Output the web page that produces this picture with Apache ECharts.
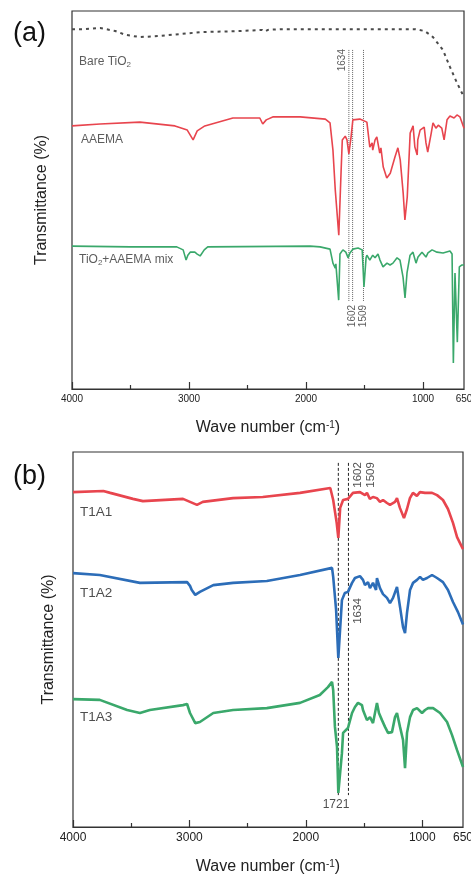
<!DOCTYPE html>
<html><head><meta charset="utf-8">
<script src="https://cdn.jsdelivr.net/npm/echarts@6/dist/echarts.min.js"></script>
<style>html,body{margin:0;padding:0;background:#fff;overflow:hidden;width:471px;height:875px}#c{width:471px;height:875px}</style>
</head><body><div id="c"></div>
<script>
// ---------- axis ticks ----------
const xTickLabels = [4000, 3000, 2000, 1000, 650];
const xMajorTicks = [4000, 3000, 2000, 1000];
const xMinorTicks = [3500, 2500, 1500];

// ---------- panel (a) ----------
const bareWN = [4000, 3890, 3760, 3630, 3545, 3420, 3250, 2905, 2565, 2375, 2350, 2325, 2220, 1625, 1070, 985, 915, 830, 770, 710, 650];
const bareT  = [95.2, 95.2, 95.5, 94.7, 93.7, 93.1, 93.4, 94.4, 94.7, 95.0, 94.6, 95.0, 95.2, 95.2, 95.2, 94.7, 93.1, 89.7, 85.2, 81.0, 77.2];

const aaemaWN = [4000, 3760, 3420, 3120, 3015, 2965, 2930, 2865, 2625, 2395, 2370, 2340, 2280, 2050, 1835, 1795, 1770, 1750, 1735, 1720, 1700, 1690, 1665, 1650, 1634, 1615, 1600, 1540, 1480, 1455, 1435, 1430, 1410, 1395, 1370, 1360, 1340, 1310, 1300, 1280, 1240, 1215, 1195, 1170, 1155, 1135, 1110, 1085, 1070, 1050, 1045, 1025, 990, 975, 960, 930, 915, 890, 870, 840, 820, 795, 770, 735, 710, 685, 650];
const aaemaT  = [69.6, 70.1, 70.6, 69.6, 68.5, 65.9, 68.3, 69.6, 71.7, 71.7, 70.1, 71.2, 72.0, 72.0, 71.4, 70.4, 63.2, 52.6, 52.1, 40.7, 57.9, 65.9, 66.9, 65.9, 62.2, 66.7, 71.2, 71.4, 70.6, 64.0, 65.1, 63.2, 65.9, 66.7, 62.4, 63.8, 58.7, 55.8, 55.3, 57.1, 61.4, 63.8, 60.6, 51.9, 44.7, 50.8, 67.7, 69.6, 64.0, 61.9, 65.9, 68.5, 69.3, 65.1, 62.7, 67.7, 70.4, 69.0, 69.8, 69.0, 65.9, 71.2, 72.2, 71.7, 72.5, 72.0, 69.0];

const mixWN = [4000, 3500, 3105, 3050, 3025, 3010, 2990, 2950, 2930, 2905, 2870, 2840, 1965, 1880, 1795, 1770, 1750, 1745, 1721, 1710, 1685, 1660, 1640, 1625, 1600, 1555, 1520, 1513, 1505, 1487, 1480, 1455, 1430, 1410, 1385, 1368, 1342, 1308, 1282, 1257, 1222, 1197, 1171, 1154, 1137, 1111, 1086, 1060, 1043, 1009, 975, 958, 923, 881, 829, 770, 752, 741, 727, 707, 690, 670, 650];
const mixT  = [37.8, 37.6, 37.6, 36.8, 34.1, 35.4, 36.2, 36.2, 35.7, 35.2, 36.8, 37.6, 37.8, 37.6, 37.0, 33.3, 32.0, 33.1, 23.5, 35.7, 36.8, 36.2, 34.7, 36.0, 37.0, 37.3, 36.8, 32.3, 27.0, 34.7, 35.4, 34.1, 35.4, 34.7, 35.7, 34.1, 32.3, 33.3, 32.8, 33.3, 34.7, 34.1, 29.6, 24.1, 30.7, 35.4, 36.2, 33.3, 34.9, 36.2, 34.9, 36.0, 36.8, 36.2, 36.0, 36.5, 35.7, 6.9, 30.7, 12.4, 32.3, 32.8, 32.8];

const peakLinesA = [1634, 1602, 1509];
const peakLineSpanA = [89.7, 23.0];

// ---------- panel (b) ----------
const t1a1WN = [4000, 3740, 3680, 3485, 3400, 3055, 2995, 2935, 2885, 2625, 2370, 2050, 1790, 1765, 1735, 1721, 1705, 1680, 1638, 1595, 1535, 1492, 1475, 1450, 1423, 1390, 1363, 1337, 1303, 1277, 1234, 1217, 1192, 1157, 1131, 1106, 1080, 1046, 1020, 976, 916, 873, 822, 779, 736, 701, 650];
const t1a1T  = [89.3, 89.6, 89.1, 87.5, 86.9, 87.5, 86.7, 85.9, 86.7, 87.7, 88.0, 89.1, 90.4, 87.2, 81.1, 77.1, 85.1, 87.2, 87.5, 89.1, 89.3, 88.5, 89.1, 87.5, 88.0, 87.7, 86.7, 87.2, 86.4, 85.9, 86.7, 87.7, 85.1, 82.4, 84.8, 87.7, 89.1, 88.3, 89.3, 89.1, 89.1, 88.5, 87.2, 84.8, 81.1, 77.3, 74.1];

const t1a2WN = [4000, 3770, 3425, 3020, 2995, 2980, 2950, 2910, 2795, 2625, 2335, 2050, 1775, 1765, 1740, 1721, 1690, 1665, 1638, 1603, 1578, 1535, 1509, 1492, 1466, 1449, 1423, 1397, 1389, 1363, 1337, 1303, 1277, 1251, 1217, 1191, 1165, 1148, 1131, 1105, 1079, 1045, 1019, 994, 959, 916, 873, 822, 779, 736, 693, 650];
const t1a2T  = [67.7, 67.2, 65.1, 65.3, 64.3, 63.2, 61.9, 62.7, 64.5, 65.1, 65.6, 67.2, 69.1, 66.7, 57.9, 45.1, 60.5, 62.4, 62.7, 65.1, 66.4, 66.9, 65.9, 64.5, 65.3, 63.7, 65.1, 63.2, 66.4, 63.7, 62.1, 61.1, 59.7, 61.1, 64.0, 58.7, 53.3, 51.7, 57.1, 63.2, 65.1, 65.9, 66.7, 65.9, 66.4, 67.2, 66.4, 65.3, 63.2, 60.0, 57.3, 54.0];

const t1a3WN = [4000, 3770, 3535, 3425, 3340, 3055, 3020, 2995, 2950, 2910, 2795, 2625, 2335, 2050, 1880, 1810, 1775, 1765, 1750, 1732, 1721, 1690, 1680, 1638, 1603, 1578, 1552, 1518, 1509, 1475, 1449, 1423, 1389, 1372, 1346, 1320, 1294, 1260, 1234, 1217, 1191, 1165, 1148, 1131, 1105, 1079, 1045, 1002, 976, 950, 907, 847, 787, 744, 701, 650];
const t1a3T  = [34.1, 33.9, 31.2, 30.4, 31.2, 32.5, 32.8, 30.4, 27.7, 28.0, 30.4, 31.2, 31.7, 33.1, 35.2, 37.3, 38.7, 36.5, 26.7, 21.3, 9.1, 19.7, 25.1, 26.4, 30.4, 32.0, 33.1, 32.5, 31.2, 28.5, 29.3, 27.7, 33.1, 30.4, 28.5, 26.7, 25.1, 25.3, 29.3, 30.4, 26.7, 23.2, 15.7, 25.1, 29.3, 31.2, 31.7, 30.4, 31.2, 31.7, 31.7, 30.4, 28.0, 24.5, 20.5, 16.0];

const peakLinesB = [1721, 1634];
const peakLineSpanB = [97.1, 8.5];

// ---------- styling ----------
const F = "'Liberation Sans', Arial, Helvetica, sans-serif";
const RED = '#e8454e', GREEN = '#3aa86b', BLUE = '#2c6db8', GREY = '#4a4a4a';
const pairs = (xs, ys) => xs.map((x, i) => [x, ys[i]]);

function mainX(g, fs, margin, gap) {
  return {
    type: 'value', gridIndex: g, position: 'bottom', min: 650, max: 4000, inverse: true,
    axisLine: { show: true, lineStyle: { color: '#333', width: 1.2 } },
    axisTick: { show: true, inside: true, length: 7, customValues: xMajorTicks, lineStyle: { color: '#333', width: 1.2 } },
    axisLabel: { customValues: xTickLabels, fontSize: fs, color: '#222', margin: margin, fontFamily: F, formatter: v => String(v), hideOverlap: false },
    splitLine: { show: false },
    name: '{a|Wave number (cm}{s|-1}{a|)}', nameLocation: 'middle', nameGap: gap,
    nameTextStyle: { fontSize: 16, color: '#222', fontFamily: F,
      rich: { a: { fontSize: 16, color: '#222', fontFamily: F }, s: { fontSize: 10, color: '#222', fontFamily: F, verticalAlign: 'top' } } }
  };
}
function minorX(g) {
  return {
    type: 'value', gridIndex: g, position: 'bottom', min: 650, max: 4000, inverse: true,
    axisLine: { show: false },
    axisTick: { show: true, inside: true, length: 4, customValues: xMinorTicks, lineStyle: { color: '#333', width: 1.2 } },
    axisLabel: { show: false }, splitLine: { show: false }
  };
}
function yAx(g, gap) {
  return {
    type: 'value', gridIndex: g, min: 0, max: 100,
    axisLine: { show: false }, axisTick: { show: false }, axisLabel: { show: false }, splitLine: { show: false },
    name: 'Transmittance (%)', nameLocation: 'middle', nameGap: gap,
    nameTextStyle: { fontSize: 16, color: '#222', fontFamily: F }
  };
}
function lineS(xi, yi, data, color, width, type) {
  return { type: 'line', xAxisIndex: xi, yAxisIndex: yi, data: data, showSymbol: false, symbol: 'none',
    lineStyle: { color: color, width: width, type: type || 'solid' }, silent: true, z: 3 };
}
function vline(xi, yi, w, span, color, type) {
  return { type: 'line', xAxisIndex: xi, yAxisIndex: yi, data: [[w, span[0]], [w, span[1]]], showSymbol: false, symbol: 'none',
    lineStyle: { color: color, width: 1, type: type }, silent: true, z: 2 };
}
function textS(xi, yi, items) {
  return { type: 'scatter', xAxisIndex: xi, yAxisIndex: yi, symbolSize: 0, silent: true, z: 5,
    data: items.map(it => ({ value: it.at, label: Object.assign({ show: true, formatter: it.text, fontFamily: F }, it.style) })) };
}

const subRich = { t: { fontSize: 12, color: '#333', fontFamily: F }, d: { fontSize: 8, color: '#333', fontFamily: F, verticalAlign: 'bottom', padding: [5, 0, 0, 0] } };
const nameStyleA = { position: 'right', distance: 0, fontSize: 12, color: '#333', rich: subRich };
const nameStyleB = { position: 'right', distance: 0, fontSize: 13.5, color: '#222' };
const peakStyleA = { position: 'inside', rotate: 90, fontSize: 10, color: '#333' };
const peakStyleB = { position: 'inside', rotate: 90, fontSize: 11.5, color: '#222' };

const gridBase = { show: true, borderColor: '#333', borderWidth: 1.2, backgroundColor: 'transparent', containLabel: false, outerBoundsMode: 'none' };
const option = {
  animation: false,
  backgroundColor: '#fff',
  grid: [
    Object.assign({ left: 72, top: 11, width: 392, height: 378 }, gridBase),
    Object.assign({ left: 73, top: 452, width: 390, height: 375 }, gridBase)
  ],
  xAxis: [mainX(0, 10, 5, 31), minorX(0), mainX(1, 12, 5, 32), minorX(1)],
  yAxis: [yAx(0, 22), yAx(1, 16)],
  series: [
    lineS(0, 0, pairs(bareWN, bareT), GREY, 2, [3, 4]),
    lineS(0, 0, pairs(aaemaWN, aaemaT), RED, 1.6),
    lineS(0, 0, pairs(mixWN, mixT), GREEN, 1.6),
    ...peakLinesA.map(w => vline(0, 0, w, peakLineSpanA, '#666', [1, 1])),
    textS(0, 0, [
      { at: [3940, 86.5], text: '{t|Bare TiO}{d|2}', style: nameStyleA },
      { at: [3923, 65.9], text: '{t|AAEMA}', style: nameStyleA },
      { at: [3940, 34.1], text: '{t|TiO}{d|2}{t|+AAEMA mix}', style: nameStyleA },
      { at: [1693, 87.0], text: '1634', style: peakStyleA },
      { at: [1602, 19.3], text: '1602', style: peakStyleA },
      { at: [1509, 19.3], text: '1509', style: peakStyleA }
    ]),
    lineS(2, 1, pairs(t1a1WN, t1a1T), RED, 2.6),
    lineS(2, 1, pairs(t1a2WN, t1a2T), BLUE, 2.6),
    lineS(2, 1, pairs(t1a3WN, t1a3T), GREEN, 2.6),
    ...peakLinesB.map(w => vline(2, 1, w, peakLineSpanB, '#222', [3, 2])),
    textS(2, 1, [
      { at: [3940, 84.0], text: 'T1A1', style: nameStyleB },
      { at: [3940, 62.4], text: 'T1A2', style: nameStyleB },
      { at: [3940, 29.3], text: 'T1A3', style: nameStyleB },
      { at: [1552, 93.9], text: '1602', style: peakStyleB },
      { at: [1440, 93.9], text: '1509', style: peakStyleB },
      { at: [1556, 57.6], text: '1634', style: peakStyleB },
      { at: [1741, 6.0], text: '1721', style: { position: 'inside', fontSize: 12, color: '#222' } }
    ])
  ],
  graphic: [
    { type: 'text', x: 13, y: 34, style: { text: '(a)', font: '27px ' + F, fill: '#111', verticalAlign: 'middle', align: 'left' } },
    { type: 'text', x: 13, y: 477, style: { text: '(b)', font: '27px ' + F, fill: '#111', verticalAlign: 'middle', align: 'left' } }
  ]
};
echarts.init(document.getElementById('c'), null, { renderer: 'canvas' }).setOption(option);
</script></body></html>
